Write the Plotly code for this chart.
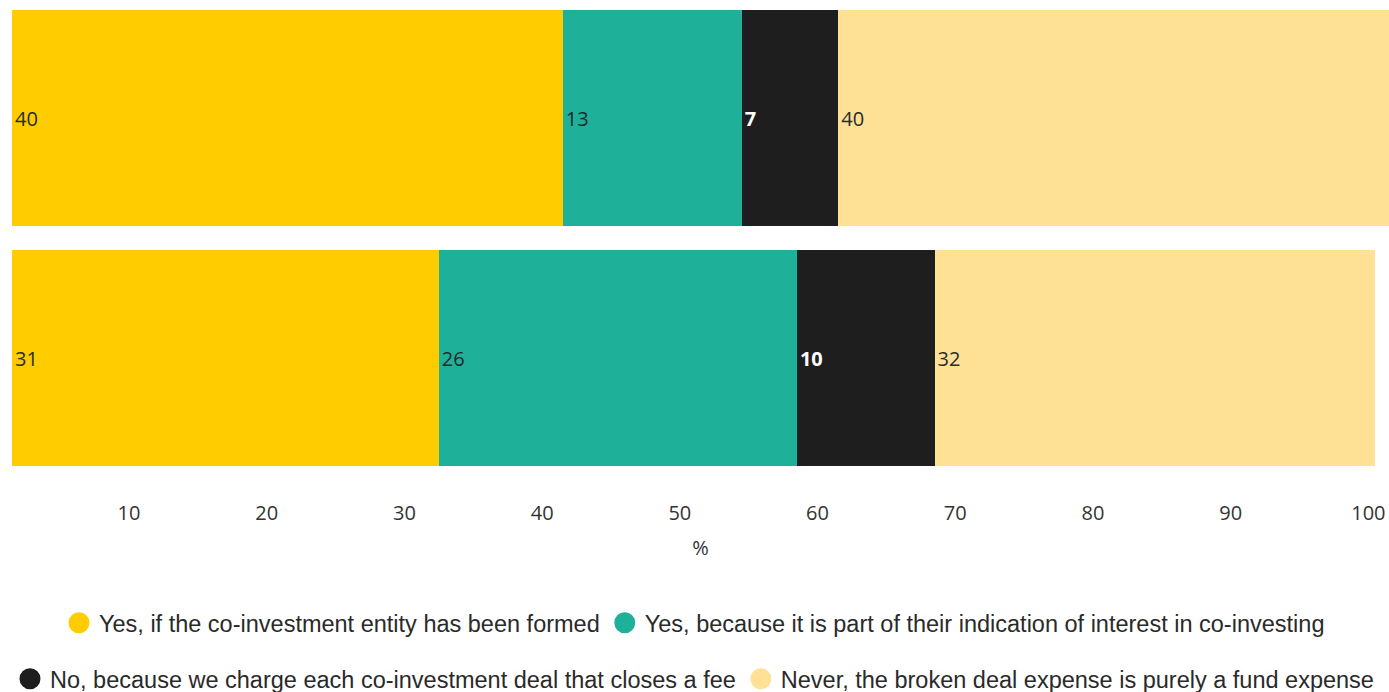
import plotly.graph_objects as go

# Survey rows (top to bottom) and response shares in percent
rows = ["Top", "Bottom"]
answers = [
    "Yes, if the co-investment entity has been formed",
    "Yes, because it is part of their indication of interest in co-investing",
    "No, because we charge each co-investment deal that closes a fee",
    "Never, the broken deal expense is purely a fund expense",
]
yes_formed = [40, 31]
yes_interest = [13, 26]
no_fee = [7, 10]
never = [40, 32]

tick_values = [10, 20, 30, 40, 50, 60, 70, 80, 90, 100]
tick_labels = ["10", "20", "30", "40", "50", "60", "70", "80", "90", "100"]

series = [yes_formed, yes_interest, no_fee, never]
colors = ["#FFCC00", "#1FB09A", "#1E1E1E", "#FFE196"]
text_colors = ["#2a2a2a", "#1f2a2a", "#FFFFFF", "#2a2a2a"]
text_weights = ["normal", "normal", "bold", "normal"]
legend_ids = ["legend", "legend", "legend2", "legend2"]

LABEL_FONT = "Open Sans, Arial, sans-serif"
LEGEND_FONT = "Liberation Sans, Arial, sans-serif"
TICK_SHIFT = -1.5  # tick labels sit slightly left of their values

fig = go.Figure()
for name, vals, col, tcol, tw, lg in zip(answers, series, colors, text_colors, text_weights, legend_ids):
    fig.add_trace(go.Bar(
        y=rows, x=vals, orientation="h", name=name,
        marker=dict(color=col, line=dict(width=0)),
        width=0.9,
        text=[str(v) for v in vals],
        textposition="inside", insidetextanchor="start",
        textfont=dict(family=LABEL_FONT, size=20, color=tcol, weight=tw),
        constraintext="none",
        legendgroup=name, showlegend=False, hoverinfo="skip",
    ))
    # round legend swatch for the series
    fig.add_trace(go.Scatter(
        x=[None], y=[None], mode="markers", name=name,
        marker=dict(color=col, size=16, symbol="circle", line=dict(color=col, width=5)),
        legendgroup=name, showlegend=True, legend=lg,
    ))

legend_common = dict(
    orientation="h", xref="container", yref="container",
    x=0.5, xanchor="center", yanchor="middle",
    font=dict(family=LEGEND_FONT, size=23.5, color="#2a2a2a"),
    bgcolor="rgba(0,0,0,0)", itemsizing="trace", traceorder="normal",
)

fig.update_layout(
    barmode="stack",
    width=1389, height=692,
    margin=dict(l=12, r=0, t=0, b=214),
    plot_bgcolor="white", paper_bgcolor="white",
    xaxis=dict(
        range=[0, 100], showgrid=False, zeroline=False, showline=False,
        tickmode="array",
        tickvals=[v + TICK_SHIFT for v in tick_values], ticktext=tick_labels,
        ticks="outside", ticklen=17, tickcolor="rgba(0,0,0,0)",
        tickfont=dict(family=LABEL_FONT, size=20, color="#333333"),
        title=dict(text="%", font=dict(family=LABEL_FONT, size=20, color="#333333"), standoff=15),
        fixedrange=True,
    ),
    yaxis=dict(
        type="category", categoryorder="array", categoryarray=rows[::-1],
        range=[-0.5, 1.4917], showticklabels=False, showgrid=False,
        zeroline=False, showline=False, fixedrange=True,
    ),
    legend=dict(**legend_common, y=69 / 692),
    legend2=dict(**legend_common, y=13 / 692),
    showlegend=True,
)

fig.write_html("out.html")
